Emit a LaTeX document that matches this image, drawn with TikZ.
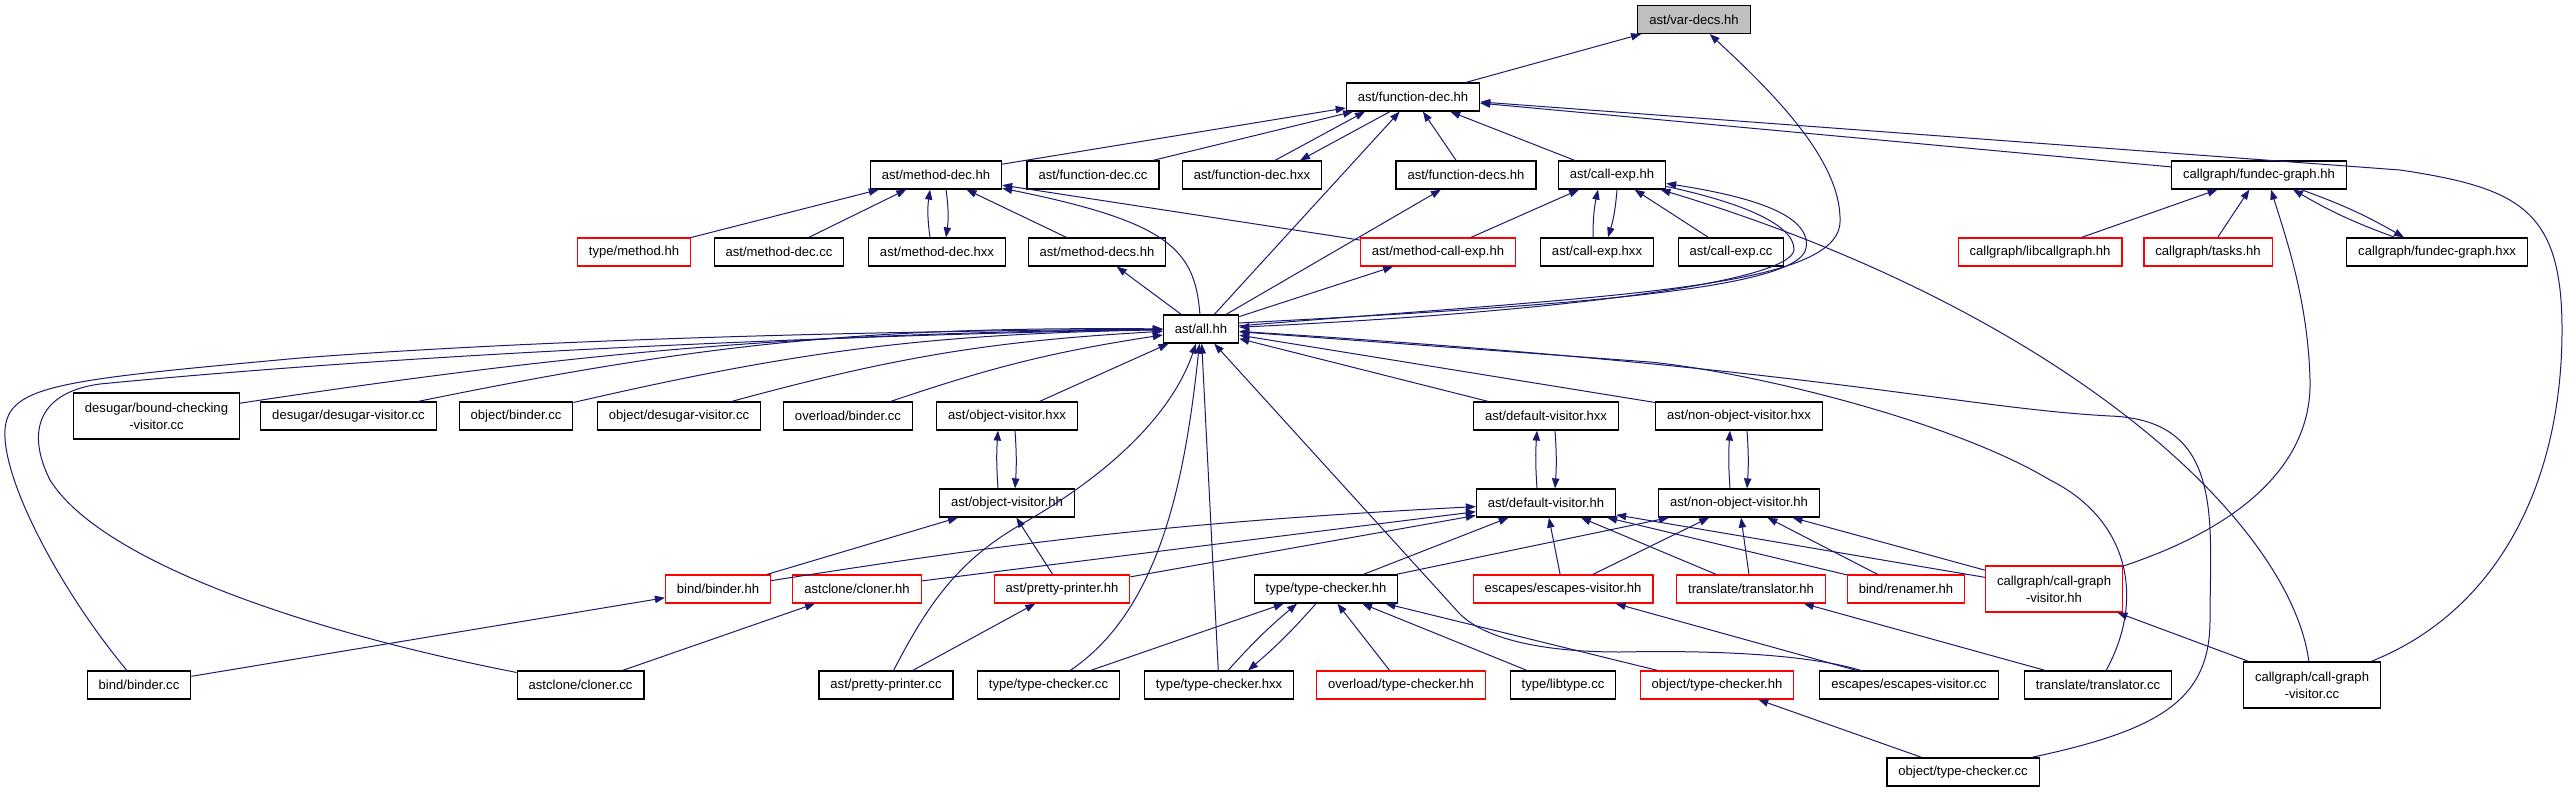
\documentclass[tikz,border=0pt]{standalone}
\usepackage{fontspec}
\setmainfont{Liberation Sans}
\usepackage{tikz}
\usetikzlibrary{arrows.meta, calc}
\definecolor{EdgeBlue}{RGB}{25, 25, 112}
\definecolor{TruncRed}{RGB}{255, 0, 0}
\definecolor{RootGrey}{RGB}{191, 191, 191}

\begin{document}
\begin{tikzpicture}[x=0.75pt, y=-0.75pt,
    every node/.style={font=\fontsize{9.8pt}{12.5pt}\selectfont},
    filebox/.style={draw=black, line width=0.9pt, rectangle, inner xsep=8.6pt, inner ysep=0pt, minimum height=21pt, align=center},
    trunc/.style={filebox, draw=TruncRed},
    rootbox/.style={filebox, fill=RootGrey},
    twoline/.style={minimum height=34.5pt},
    dep/.style={-{Triangle[length=7.5pt, width=5.5pt]}, color=EdgeBlue, line width=0.75pt}]
    \useasboundingbox (0,0) rectangle (2569,792);

    % files, row by row
    \node[rootbox] (vardecs) at (1694,19.5) {ast/var-decs.hh};
    \node[filebox] (fdec) at (1413,97) {ast/function-dec.hh};

    \node[filebox] (mdec) at (936,175) {ast/method-dec.hh};
    \node[filebox] (fdeccc) at (1093,175) {ast/function-dec.cc};
    \node[filebox] (fdechxx) at (1252,175) {ast/function-dec.hxx};
    \node[filebox] (fdecs) at (1466,175) {ast/function-decs.hh};
    \node[filebox] (callexp) at (1612,175) {ast/call-exp.hh};
    \node[filebox] (fgraph) at (2259,175) {callgraph/fundec-graph.hh};

    \node[trunc] (typemethod) at (634,252) {type/method.hh};
    \node[filebox] (mdeccc) at (779,252) {ast/method-dec.cc};
    \node[filebox] (mdechxx) at (937,252) {ast/method-dec.hxx};
    \node[filebox] (mdecs) at (1097,252) {ast/method-decs.hh};
    \node[trunc] (mcallexp) at (1438,252) {ast/method-call-exp.hh};
    \node[filebox] (callexphxx) at (1597,252) {ast/call-exp.hxx};
    \node[filebox] (callexpcc) at (1731,252) {ast/call-exp.cc};
    \node[trunc] (libcg) at (2040,252) {callgraph/libcallgraph.hh};
    \node[trunc] (tasks) at (2208,252) {callgraph/tasks.hh};
    \node[filebox] (fgraphhxx) at (2437,252) {callgraph/fundec-graph.hxx};

    \node[filebox] (all) at (1201,329) {ast/all.hh};

    \node[filebox, twoline] (boundchk) at (156.5,416) {desugar/bound-checking\\-visitor.cc};
    \node[filebox] (desugarvis) at (348.5,416) {desugar/desugar-visitor.cc};
    \node[filebox] (objbindercc) at (516,416) {object/binder.cc};
    \node[filebox] (objdesugar) at (679,416) {object/desugar-visitor.cc};
    \node[filebox] (ovlbinder) at (848,416) {overload/binder.cc};
    \node[filebox] (ovhxx) at (1007,416) {ast/object-visitor.hxx};
    \node[filebox] (dvhxx) at (1546,416) {ast/default-visitor.hxx};
    \node[filebox] (novhxx) at (1739,416) {ast/non-object-visitor.hxx};

    \node[filebox] (ovhh) at (1007,503) {ast/object-visitor.hh};
    \node[filebox] (dvhh) at (1546,503) {ast/default-visitor.hh};
    \node[filebox] (novhh) at (1739,503) {ast/non-object-visitor.hh};

    \node[trunc] (binderhh) at (718,589) {bind/binder.hh};
    \node[trunc] (clonerhh) at (857,589) {astclone/cloner.hh};
    \node[trunc] (pphh) at (1062,589) {ast/pretty-printer.hh};
    \node[filebox] (tchh) at (1326,589) {type/type-checker.hh};
    \node[trunc] (escvhh) at (1563,589) {escapes/escapes-visitor.hh};
    \node[trunc] (transhh) at (1751,589) {translate/translator.hh};
    \node[trunc] (renamer) at (1906,589) {bind/renamer.hh};
    \node[trunc, twoline] (cgvhh) at (2054,589) {callgraph/call-graph\\-visitor.hh};

    \node[filebox] (bindercc) at (139,685) {bind/binder.cc};
    \node[filebox] (clonercc) at (580.6,685) {astclone/cloner.cc};
    \node[filebox] (ppcc) at (886,685) {ast/pretty-printer.cc};
    \node[filebox] (tccc) at (1048.5,685) {type/type-checker.cc};
    \node[filebox] (tchxx) at (1219,685) {type/type-checker.hxx};
    \node[trunc] (ovltc) at (1401,685) {overload/type-checker.hh};
    \node[filebox] (libtype) at (1563,685) {type/libtype.cc};
    \node[trunc] (objtchh) at (1717,685) {object/type-checker.hh};
    \node[filebox] (escvcc) at (1909,685) {escapes/escapes-visitor.cc};
    \node[filebox] (transcc) at (2098,685) {translate/translator.cc};
    \node[filebox, twoline] (cgvcc) at (2312,685) {callgraph/call-graph\\-visitor.cc};

    \node[filebox] (objtccc) at (1963,772) {object/type-checker.cc};

    % includes of ast/var-decs.hh and ast/function-dec.hh
    \draw[dep] (fdec) -- (vardecs);
    \draw[dep] (all) .. controls (1600,296) and (1838,290) .. (1840,222) .. controls (1842,160) and (1770,90) .. (vardecs);
    \draw[dep] (mdec) -- (fdec);
    \draw[dep] (fdeccc) -- (fdec);
    \draw[dep] ($(fdechxx.north)+(23,0)$) -- ($(fdec.south)+(-48,0)$);
    \draw[dep] ($(fdec.south)+(-23,0)$) -- ($(fdechxx.north)+(48,0)$);
    \draw[dep] (all) -- (fdec);
    \draw[dep] (fdecs) -- (fdec);
    \draw[dep] (callexp) -- (fdec);
    \draw[dep] (fgraph) -- (fdec);
    \draw[dep] (cgvcc) .. controls (2500,610) and (2562,480) .. (2562,330) .. controls (2562,210) and (2520,188) .. (2400,170) -- (fdec);

    % ast/method-dec.hh
    \draw[dep] (typemethod) -- (mdec);
    \draw[dep] (mdeccc) -- (mdec);
    \draw[dep] ($(mdechxx.north)+(-7,0)$) to[bend left=8] ($(mdec.south)+(-6,0)$);
    \draw[dep] ($(mdec.south)+(10,0)$) to[bend left=8] ($(mdechxx.north)+(9,0)$);
    \draw[dep] (mdecs) -- (mdec);
    \draw[dep] (all) .. controls (1195,250) and (1170,222) .. (mdec);
    \draw[dep] (mcallexp) -- (mdec);
    \draw[dep] (all) -- (mdecs);
    \draw[dep] (all) -- (fdecs);
    \draw[dep] (all) -- (mcallexp);

    % ast/call-exp.hh
    \draw[dep] (mcallexp) -- (callexp);
    \draw[dep] ($(callexphxx.north)+(-4,0)$) to[bend left=6] ($(callexp.south)+(-14,0)$);
    \draw[dep] ($(callexp.south)+(5,0)$) to[bend left=6] ($(callexphxx.north)+(11,0)$);
    \draw[dep] (callexpcc) -- (callexp);
    \draw[dep] ($(all.east)+(0,-6)$) .. controls (1560,306) and (1800,290) .. (1806,248) .. controls (1812,212) and (1740,195) .. (callexp);
    \draw[dep] (callexp) .. controls (1730,200) and (1795,222) .. (1794,250) .. controls (1790,282) and (1560,312) .. (all);
    \draw[dep] (cgvcc) .. controls (2290,520) and (2060,310) .. (callexp);

    % callgraph/fundec-graph.hh
    \draw[dep] (libcg) -- (fgraph);
    \draw[dep] (tasks) -- (fgraph);
    \draw[dep] (cgvhh) .. controls (2262,520) and (2312,450) .. (2310,380) .. controls (2308,300) and (2285,235) .. ($(fgraph.south)+(12,0)$);
    \draw[dep] ($(fgraphhxx.north)+(-42,0)$) to[bend left=5] ($(fgraph.south)+(34,0)$);
    \draw[dep] ($(fgraph.south)+(42,0)$) to[bend left=5] ($(fgraphhxx.north)+(-33,0)$);

    % ast/all.hh
    \draw[dep] (boundchk) to[bend left=4] (all);
    \draw[dep] (desugarvis) to[bend left=6] (all);
    \draw[dep] (objbindercc) to[bend left=6] (all);
    \draw[dep] (objdesugar) to[bend left=6] (all);
    \draw[dep] (ovlbinder) to[bend left=5] (all);
    \draw[dep] (ovhxx) -- (all);
    \draw[dep] (bindercc) .. controls (60,590) and (2,480) .. (5,430) .. controls (8,385) and (60,380) .. (300,358) .. controls (600,335) and (1000,330) .. (all);
    \draw[dep] (clonercc) .. controls (300,630) and (100,560) .. (50,480) .. controls (25,430) and (40,392) .. (100,384) .. controls (500,345) and (1000,332) .. (all);
    \draw[dep] (ppcc) .. controls (930,600) and (960,560) .. (1020,525) .. controls (1100,480) and (1170,420) .. (all);
    \draw[dep] (tccc) .. controls (1160,610) and (1185,480) .. (all);
    \draw[dep] (tchxx) -- (all);
    \draw[dep] (escvcc) .. controls (1810,655) and (1720,650) .. (1620,652) .. controls (1530,652) and (1480,635) .. (1459,613) -- (all);
    \draw[dep] (dvhxx) -- (all);
    \draw[dep] (novhxx) -- (all);
    \draw[dep] (transcc) .. controls (2145,600) and (2130,520) .. (2050,480) .. controls (1950,420) and (1750,372) .. (1650,362) -- (all);
    \draw[dep] (objtccc) .. controls (2160,730) and (2210,700) .. (2210,620) .. controls (2210,520) and (2225,420) .. (2110,416) .. controls (1960,408) and (1820,368) .. (all);

    % visitors
    \draw[dep] ($(ovhh.north)+(-9,0)$) to[bend left=4] ($(ovhxx.south)+(-9,0)$);
    \draw[dep] ($(ovhxx.south)+(8,0)$) to[bend left=4] ($(ovhh.north)+(8,0)$);
    \draw[dep] ($(dvhh.north)+(-9,0)$) to[bend left=4] ($(dvhxx.south)+(-9,0)$);
    \draw[dep] ($(dvhxx.south)+(9,0)$) to[bend left=4] ($(dvhh.north)+(9,0)$);
    \draw[dep] ($(novhh.north)+(-9,0)$) to[bend left=4] ($(novhxx.south)+(-9,0)$);
    \draw[dep] ($(novhxx.south)+(8,0)$) to[bend left=4] ($(novhh.north)+(8,0)$);
    \draw[dep] (binderhh) -- (ovhh);
    \draw[dep] (pphh) -- (ovhh);
    \draw[dep] (binderhh) to[bend left=3] (dvhh);
    \draw[dep] (clonerhh) -- (dvhh);
    \draw[dep] (pphh) -- (dvhh);
    \draw[dep] (tchh) -- (dvhh);
    \draw[dep] (escvhh) -- (dvhh);
    \draw[dep] (transhh) -- (dvhh);
    \draw[dep] (renamer) -- (dvhh);
    \draw[dep] (cgvhh) -- (dvhh);
    \draw[dep] (tchh) -- (novhh);
    \draw[dep] (escvhh) -- (novhh);
    \draw[dep] (transhh) -- (novhh);
    \draw[dep] (renamer) -- (novhh);
    \draw[dep] (cgvhh) -- (novhh);

    % bottom rows
    \draw[dep] (bindercc) -- (binderhh);
    \draw[dep] (clonercc) -- (clonerhh);
    \draw[dep] (ppcc) -- (pphh);
    \draw[dep] (tccc) -- (tchh);
    \draw[dep] ($(tchxx.north)+(9,0)$) to[bend left=4] ($(tchh.south)+(-29,0)$);
    \draw[dep] ($(tchh.south)+(-10,0)$) to[bend left=4] ($(tchxx.north)+(29,0)$);
    \draw[dep] (ovltc) -- (tchh);
    \draw[dep] (libtype) -- (tchh);
    \draw[dep] (objtchh) -- (tchh);
    \draw[dep] (escvcc) -- (escvhh);
    \draw[dep] (transcc) -- (transhh);
    \draw[dep] (cgvcc) -- (cgvhh);
    \draw[dep] (objtccc) -- (objtchh);
\end{tikzpicture}
\end{document}
